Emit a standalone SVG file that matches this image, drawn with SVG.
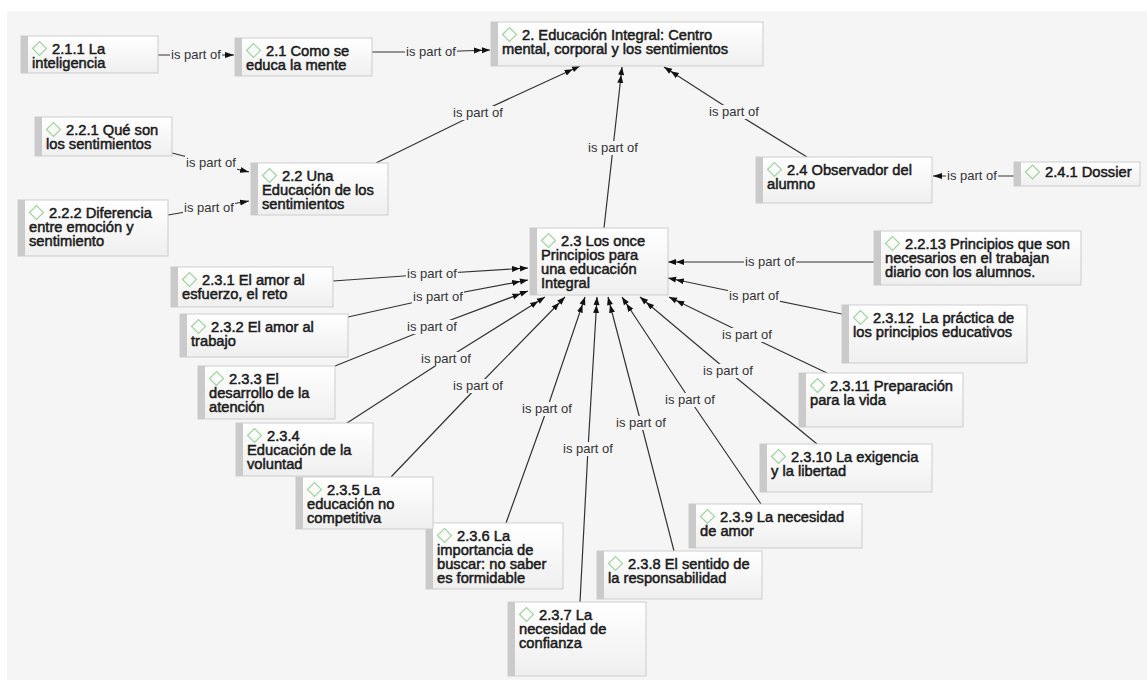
<svg xmlns="http://www.w3.org/2000/svg" width="1147" height="680" viewBox="0 0 1147 680">
<defs>
<linearGradient id="g" x1="0" y1="0" x2="0" y2="1"><stop offset="0" stop-color="#ffffff"/><stop offset="1" stop-color="#efefef"/></linearGradient>
<marker id="a2" markerUnits="userSpaceOnUse" viewBox="0 0 16 7" markerWidth="16" markerHeight="7" refX="16" refY="3.5" orient="auto"><path d="M0,0.5 L8,3.5 L0,6.5 Z M8,0.5 L16,3.5 L8,6.5 Z" fill="#111"/></marker>
<marker id="a1" markerUnits="userSpaceOnUse" viewBox="0 0 9 7" markerWidth="9" markerHeight="7" refX="9" refY="3.5" orient="auto"><path d="M0,0.5 L9,3.5 L0,6.5 Z" fill="#111"/></marker>
<style>
.box{fill:url(#g);stroke:#cdcdcd;stroke-width:1}
.bar{fill:#cacaca}
.dia{fill:none;stroke:#9fd49f;stroke-width:1.2}
.t{font-family:"Liberation Sans",Arial,sans-serif;font-size:14.7px;fill:#1a1a1a;stroke:#1a1a1a;stroke-width:0.5}
.c{fill:none;stroke:#333;stroke-width:1.2}
.c2{marker-end:url(#a2)}
.c1{marker-end:url(#a1)}
.lb{fill:#f5f5f5}
.lt{font-family:"Liberation Sans",Arial,sans-serif;font-size:13px;fill:#333;text-anchor:middle}
</style>
</defs>
<rect width="1147" height="680" fill="#ffffff"/>
<rect x="7" y="11" width="1140" height="669" fill="#f5f5f5"/>

<g id="connectors">
<polyline class="c c1" points="158,55 196,55 234,55"/>
<polyline class="c c2" points="372,52 431,52 490,50"/>
<polyline class="c c2" points="376,163 478,113 580,66"/>
<polyline class="c c2" points="604,228 613,148 622,67"/>
<polyline class="c c2" points="807,157 734,112 664,67"/>
<polyline class="c c1" points="1014,176 972,176 933,176"/>
<polyline class="c c1" points="172,153 211,163 249,172"/>
<polyline class="c c1" points="168,215 209,208 249,201"/>
<polyline class="c c2" points="874,262 770,262 668,262"/>
<polyline class="c c2" points="842,314 754,296 668,278"/>
<polyline class="c c2" points="827,373 747,335 669,297"/>
<polyline class="c c2" points="817,444 728,371 640,297"/>
<polyline class="c c2" points="761,504 690,400 622,297"/>
<polyline class="c c2" points="674,551 641,423 608,297"/>
<polyline class="c c2" points="580,602 588,449 597,297"/>
<polyline class="c c2" points="506,523 547,409 585,297"/>
<polyline class="c c2" points="391,477 478,386 565,297"/>
<polyline class="c c2" points="347,423 446,359 545,297"/>
<polyline class="c c2" points="335,366 432,327 528,291"/>
<polyline class="c c2" points="348,317 438,297 528,280"/>
<polyline class="c c2" points="333,281 432,274 528,268"/>
<g id="labels">
<rect class="lb" x="170" y="48" width="52" height="14"/><text class="lt" x="196" y="59">is part of</text>
<rect class="lb" x="405" y="45" width="52" height="14"/><text class="lt" x="431" y="56">is part of</text>
<rect class="lb" x="452" y="106" width="52" height="14"/><text class="lt" x="478" y="117">is part of</text>
<rect class="lb" x="587" y="141" width="52" height="14"/><text class="lt" x="613" y="152">is part of</text>
<rect class="lb" x="708" y="105" width="52" height="14"/><text class="lt" x="734" y="116">is part of</text>
<rect class="lb" x="946" y="169" width="52" height="14"/><text class="lt" x="972" y="180">is part of</text>
<rect class="lb" x="185" y="156" width="52" height="14"/><text class="lt" x="211" y="167">is part of</text>
<rect class="lb" x="183" y="201" width="52" height="14"/><text class="lt" x="209" y="212">is part of</text>
<rect class="lb" x="744" y="255" width="52" height="14"/><text class="lt" x="770" y="266">is part of</text>
<rect class="lb" x="728" y="289" width="52" height="14"/><text class="lt" x="754" y="300">is part of</text>
<rect class="lb" x="721" y="328" width="52" height="14"/><text class="lt" x="747" y="339">is part of</text>
<rect class="lb" x="702" y="364" width="52" height="14"/><text class="lt" x="728" y="375">is part of</text>
<rect class="lb" x="664" y="393" width="52" height="14"/><text class="lt" x="690" y="404">is part of</text>
<rect class="lb" x="615" y="416" width="52" height="14"/><text class="lt" x="641" y="427">is part of</text>
<rect class="lb" x="562" y="442" width="52" height="14"/><text class="lt" x="588" y="453">is part of</text>
<rect class="lb" x="521" y="402" width="52" height="14"/><text class="lt" x="547" y="413">is part of</text>
<rect class="lb" x="452" y="379" width="52" height="14"/><text class="lt" x="478" y="390">is part of</text>
<rect class="lb" x="420" y="352" width="52" height="14"/><text class="lt" x="446" y="363">is part of</text>
<rect class="lb" x="406" y="320" width="52" height="14"/><text class="lt" x="432" y="331">is part of</text>
<rect class="lb" x="412" y="290" width="52" height="14"/><text class="lt" x="438" y="301">is part of</text>
<rect class="lb" x="406" y="267" width="52" height="14"/><text class="lt" x="432" y="278">is part of</text>
</g>
</g>

<g id="n2"><rect class="box" x="491" y="22" width="272" height="44"/><rect class="bar" x="491" y="22" width="7" height="44"/><path class="dia" d="M502.5,34.5 L509.5,27.5 L516.5,34.5 L509.5,41.5 Z"/><text class="t"><tspan x="522" y="39.5">2. Educación Integral: Centro</tspan><tspan x="502" y="53.8">mental, corporal y los sentimientos</tspan></text></g>
<g id="n21"><rect class="box" x="235" y="38" width="137" height="38"/><rect class="bar" x="235" y="38" width="7" height="38"/><path class="dia" d="M246.5,50.5 L253.5,43.5 L260.5,50.5 L253.5,57.5 Z"/><text class="t"><tspan x="266" y="55.5">2.1 Como se</tspan><tspan x="246" y="69.8">educa la mente</tspan></text></g>
<g id="n211"><rect class="box" x="21" y="36" width="137" height="37"/><rect class="bar" x="21" y="36" width="7" height="37"/><path class="dia" d="M32.5,48.5 L39.5,41.5 L46.5,48.5 L39.5,55.5 Z"/><text class="t"><tspan x="52" y="53.5">2.1.1 La</tspan><tspan x="32" y="67.8">inteligencia</tspan></text></g>
<g id="n22"><rect class="box" x="251" y="163" width="137" height="52"/><rect class="bar" x="251" y="163" width="7" height="52"/><path class="dia" d="M262.5,175.5 L269.5,168.5 L276.5,175.5 L269.5,182.5 Z"/><text class="t"><tspan x="282" y="180.5">2.2 Una</tspan><tspan x="262" y="194.8">Educación de los</tspan><tspan x="262" y="209.1">sentimientos</tspan></text></g>
<g id="n221"><rect class="box" x="35" y="117" width="137" height="39"/><rect class="bar" x="35" y="117" width="7" height="39"/><path class="dia" d="M46.5,129.5 L53.5,122.5 L60.5,129.5 L53.5,136.5 Z"/><text class="t"><tspan x="66" y="134.5">2.2.1 Qué son</tspan><tspan x="46" y="148.8">los sentimientos</tspan></text></g>
<g id="n222"><rect class="box" x="18" y="200" width="150" height="56"/><rect class="bar" x="18" y="200" width="7" height="56"/><path class="dia" d="M29.5,212.5 L36.5,205.5 L43.5,212.5 L36.5,219.5 Z"/><text class="t"><tspan x="49" y="217.5">2.2.2 Diferencia</tspan><tspan x="29" y="231.8">entre emoción y</tspan><tspan x="29" y="246.1">sentimiento</tspan></text></g>
<g id="n23"><rect class="box" x="530" y="228" width="138" height="67"/><rect class="bar" x="530" y="228" width="7" height="67"/><path class="dia" d="M541.5,240.5 L548.5,233.5 L555.5,240.5 L548.5,247.5 Z"/><text class="t"><tspan x="561" y="245.5">2.3 Los once</tspan><tspan x="541" y="259.8">Principios para</tspan><tspan x="541" y="274.1">una educación</tspan><tspan x="541" y="288.4">Integral</tspan></text></g>
<g id="n24"><rect class="box" x="756" y="157" width="176" height="46"/><rect class="bar" x="756" y="157" width="7" height="46"/><path class="dia" d="M767.5,169.5 L774.5,162.5 L781.5,169.5 L774.5,176.5 Z"/><text class="t"><tspan x="787" y="174.5">2.4 Observador del</tspan><tspan x="767" y="188.8">alumno</tspan></text></g>
<g id="n241"><rect class="box" x="1014" y="162" width="126" height="24"/><rect class="bar" x="1014" y="162" width="7" height="24"/><path class="dia" d="M1025.5,172 L1032.5,165 L1039.5,172 L1032.5,179 Z"/><text class="t"><tspan x="1045" y="177">2.4.1 Dossier</tspan></text></g>
<g id="n2213"><rect class="box" x="874" y="231" width="207" height="54"/><rect class="bar" x="874" y="231" width="7" height="54"/><path class="dia" d="M885.5,243.5 L892.5,236.5 L899.5,243.5 L892.5,250.5 Z"/><text class="t"><tspan x="905" y="248.5">2.2.13 Principios que son</tspan><tspan x="885" y="262.8">necesarios en el trabajan</tspan><tspan x="885" y="277.1">diario con los alumnos.</tspan></text></g>
<g id="n2312"><rect class="box" x="842" y="305" width="185" height="58"/><rect class="bar" x="842" y="305" width="7" height="58"/><path class="dia" d="M853.5,317.5 L860.5,310.5 L867.5,317.5 L860.5,324.5 Z"/><text class="t"><tspan x="873" y="322.5">2.3.12&#160; La práctica de</tspan><tspan x="853" y="336.8">los principios educativos</tspan></text></g>
<g id="n2311"><rect class="box" x="799" y="373" width="164" height="54"/><rect class="bar" x="799" y="373" width="7" height="54"/><path class="dia" d="M810.5,385.5 L817.5,378.5 L824.5,385.5 L817.5,392.5 Z"/><text class="t"><tspan x="830" y="390.5">2.3.11 Preparación</tspan><tspan x="810" y="404.8">para la vida</tspan></text></g>
<g id="n2310"><rect class="box" x="760" y="444" width="172" height="48"/><rect class="bar" x="760" y="444" width="7" height="48"/><path class="dia" d="M771.5,456.5 L778.5,449.5 L785.5,456.5 L778.5,463.5 Z"/><text class="t"><tspan x="791" y="461.5">2.3.10 La exigencia</tspan><tspan x="771" y="475.8">y la libertad</tspan></text></g>
<g id="n239"><rect class="box" x="689" y="504" width="173" height="44"/><rect class="bar" x="689" y="504" width="7" height="44"/><path class="dia" d="M700.5,516.5 L707.5,509.5 L714.5,516.5 L707.5,523.5 Z"/><text class="t"><tspan x="720" y="521.5">2.3.9 La necesidad</tspan><tspan x="700" y="535.8">de amor</tspan></text></g>
<g id="n238"><rect class="box" x="597" y="551" width="165" height="48"/><rect class="bar" x="597" y="551" width="7" height="48"/><path class="dia" d="M608.5,563.5 L615.5,556.5 L622.5,563.5 L615.5,570.5 Z"/><text class="t"><tspan x="628" y="568.5">2.3.8 El sentido de</tspan><tspan x="608" y="582.8">la responsabilidad</tspan></text></g>
<g id="n237"><rect class="box" x="508" y="602" width="138" height="74"/><rect class="bar" x="508" y="602" width="7" height="74"/><path class="dia" d="M519.5,614.5 L526.5,607.5 L533.5,614.5 L526.5,621.5 Z"/><text class="t"><tspan x="539" y="619.5">2.3.7 La</tspan><tspan x="519" y="633.8">necesidad de</tspan><tspan x="519" y="648.1">confianza</tspan></text></g>
<g id="n236"><rect class="box" x="426" y="523" width="137" height="66"/><rect class="bar" x="426" y="523" width="7" height="66"/><path class="dia" d="M437.5,535.5 L444.5,528.5 L451.5,535.5 L444.5,542.5 Z"/><text class="t"><tspan x="457" y="540.5">2.3.6 La</tspan><tspan x="437" y="554.8">importancia de</tspan><tspan x="437" y="569.1">buscar: no saber</tspan><tspan x="437" y="583.4">es formidable</tspan></text></g>
<g id="n235"><rect class="box" x="296" y="477" width="137" height="52"/><rect class="bar" x="296" y="477" width="7" height="52"/><path class="dia" d="M307.5,489.5 L314.5,482.5 L321.5,489.5 L314.5,496.5 Z"/><text class="t"><tspan x="327" y="494.5">2.3.5 La</tspan><tspan x="307" y="508.8">educación no</tspan><tspan x="307" y="523.1">competitiva</tspan></text></g>
<g id="n234"><rect class="box" x="236" y="423" width="137" height="53"/><rect class="bar" x="236" y="423" width="7" height="53"/><path class="dia" d="M247.5,435.5 L254.5,428.5 L261.5,435.5 L254.5,442.5 Z"/><text class="t"><tspan x="267" y="440.5">2.3.4</tspan><tspan x="247" y="454.8">Educación de la</tspan><tspan x="247" y="469.1">voluntad</tspan></text></g>
<g id="n233"><rect class="box" x="198" y="366" width="137" height="53"/><rect class="bar" x="198" y="366" width="7" height="53"/><path class="dia" d="M209.5,378.5 L216.5,371.5 L223.5,378.5 L216.5,385.5 Z"/><text class="t"><tspan x="229" y="383.5">2.3.3 El</tspan><tspan x="209" y="397.8">desarrollo de la</tspan><tspan x="209" y="412.1">atención</tspan></text></g>
<g id="n232"><rect class="box" x="180" y="314" width="168" height="43"/><rect class="bar" x="180" y="314" width="7" height="43"/><path class="dia" d="M191.5,326.5 L198.5,319.5 L205.5,326.5 L198.5,333.5 Z"/><text class="t"><tspan x="211" y="331.5">2.3.2 El amor al</tspan><tspan x="191" y="345.8">trabajo</tspan></text></g>
<g id="n231"><rect class="box" x="171" y="267" width="162" height="40"/><rect class="bar" x="171" y="267" width="7" height="40"/><path class="dia" d="M182.5,279.5 L189.5,272.5 L196.5,279.5 L189.5,286.5 Z"/><text class="t"><tspan x="202" y="284.5">2.3.1 El amor al</tspan><tspan x="182" y="298.8">esfuerzo, el reto</tspan></text></g>
</svg>
